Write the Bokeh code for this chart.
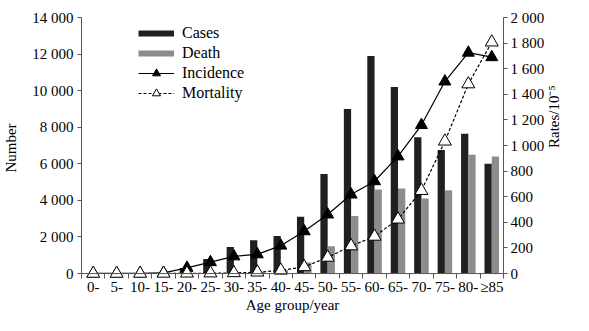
import math
import numpy as np
from bokeh.plotting import figure
from bokeh.models import (Range1d, LinearAxis, FixedTicker, Span, Legend,
                          LegendItem, ColumnDataSource)
from bokeh.transform import dodge
from bokeh.embed import file_html
from bokeh.resources import INLINE

# ---------------- data ----------------
categories = ["0-", "5-", "10-", "15-", "20-", "25-", "30-", "35-", "40-",
              "45-", "50-", "55-", "60-", "65-", "70-", "75-", "80-", "≥85"]
cases = [10, 5, 10, 50, 300, 800, 1450, 1820, 2050, 3100, 5450, 9000,
         11900, 10200, 7450, 6750, 7650, 6000]
deaths = [2, 1, 2, 5, 10, 20, 40, 100, 200, 600, 1500, 3150,
          4600, 4650, 4100, 4550, 6500, 6400]
incidence = [1, 1, 2, 5, 45, 89, 134, 150, 218, 330, 461, 617,
             721, 915, 1160, 1500, 1725, 1690]
mortality = [0.5, 0.3, 0.5, 1, 2, 3, 5, 10, 25, 52, 126, 215,
             290, 424, 647, 1033, 1480, 1807]

number_ticks = [0, 2000, 4000, 6000, 8000, 10000, 12000, 14000]
rate_ticks = [0, 200, 400, 600, 800, 1000, 1200, 1400, 1600, 1800, 2000]

# ---------------- styling ----------------
FONT = "Liberation Serif"
TICK_FS = "15px"
TITLE_FS = "15px"
AXIS_COLOR = "#555555"
PAD = 270  # small space below zero so the zero markers are not clipped

def fmt(v):
    return f"{v:,}".replace(",", " ")

xs = [i + 0.5 for i in range(len(categories))]
src = ColumnDataSource(dict(x=xs, cat=categories, cases=cases, deaths=deaths,
                            incidence=incidence, mortality=mortality))

p = figure(width=573, height=315, output_backend="svg", toolbar_location=None,
           x_range=Range1d(0, len(categories)), y_range=Range1d(-PAD, 14000),
           min_border_left=80, min_border_right=55, min_border_top=17,
           min_border_bottom=30)
p.extra_y_ranges = {"rate": Range1d(-PAD / 7.0, 2000)}
p.outline_line_color = None
p.xgrid.visible = False
p.ygrid.visible = False
p.background_fill_color = "white"
p.border_fill_color = "white"

r_cases = p.vbar(x=dodge("x", -0.155, range=p.x_range), top="cases", bottom=0,
                 width=0.31, source=src, fill_color="#231f20", line_color=None)
r_deaths = p.vbar(x=dodge("x", 0.155, range=p.x_range), top="deaths", bottom=0,
                  width=0.31, source=src, fill_color="#8c8c8c", line_color=None)

zero = Span(location=0, dimension="width", line_color=AXIS_COLOR, line_width=1)
p.add_layout(zero)

r_inc_l = p.line(x="x", y="incidence", source=src, y_range_name="rate",
                 line_color="black", line_width=1.2)
r_inc_m = p.scatter(x="x", y="incidence", source=src, y_range_name="rate",
                    marker="triangle", size=12, fill_color="black",
                    line_color="black")
r_mor_l = p.line(x="x", y="mortality", source=src, y_range_name="rate",
                 line_color="black", line_width=1.2, line_dash="3 2")
r_mor_m = p.scatter(x="x", y="mortality", source=src, y_range_name="rate",
                    marker="triangle", size=13, fill_color="white",
                    line_color="black", line_width=1)

# legend proxies (thick strokes for the bar series, nothing drawn in the plot)
nan = np.array([np.nan])
leg_cases = p.line(x=nan, y=nan, line_color="#231f20", line_width=6)
leg_deaths = p.line(x=nan, y=nan, line_color="#8c8c8c", line_width=6)

# ---------------- axes ----------------
xa = p.xaxis[0]
xa.ticker = FixedTicker(ticks=xs, minor_ticks=list(range(len(categories) + 1)))
xa.major_label_overrides = {x: c for x, c in zip(xs, categories)}
xa.major_tick_in = 0
xa.major_tick_out = 0
xa.minor_tick_in = 5
xa.minor_tick_out = 0
xa.minor_tick_line_color = AXIS_COLOR
xa.major_label_standoff = 0
xa.axis_label = "Age group/year"
xa.axis_label_standoff = -1

ya = p.yaxis[0]
ya.ticker = FixedTicker(ticks=number_ticks)
ya.major_label_overrides = {v: fmt(v) for v in number_ticks}
ya.bounds = (0, 14000)
ya.axis_label = "Number"

ra = LinearAxis(y_range_name="rate", ticker=FixedTicker(ticks=rate_ticks))
ra.major_label_overrides = {v: fmt(v) for v in rate_ticks}
ra.bounds = (0, 2000)
ra.axis_label = "Rates/10⁻⁵"
try:
    ra.axis_label_orientation = math.pi / 2
except Exception:
    pass
p.add_layout(ra, "right")

for ax in (ya, ra):
    ax.major_tick_in = 0
    ax.major_tick_out = 4
    ax.minor_tick_line_color = None
    ax.major_label_standoff = 4
    ax.axis_line_color = AXIS_COLOR
ya.axis_label_standoff = 10
ra.major_label_standoff = 3
ra.axis_label_standoff = 7

xa.axis_line_color = None
for ax in (xa, ya, ra):
    ax.major_tick_line_color = AXIS_COLOR
    ax.major_label_text_font = FONT
    ax.major_label_text_font_size = TICK_FS
    ax.major_label_text_color = "black"
    ax.axis_label_text_font = FONT
    ax.axis_label_text_font_size = TITLE_FS
    ax.axis_label_text_font_style = "normal"
    ax.axis_label_text_color = "black"

# ---------------- legend ----------------
legend = Legend(items=[
    LegendItem(label="Cases", renderers=[leg_cases]),
    LegendItem(label="Death", renderers=[leg_deaths]),
    LegendItem(label="Incidence", renderers=[r_inc_l, r_inc_m]),
    LegendItem(label="Mortality", renderers=[r_mor_l, r_mor_m]),
], location=(57, 175), orientation="vertical")
legend.margin = 0
legend.padding = 0
legend.spacing = 0
legend.glyph_width = 36
legend.glyph_height = 20
legend.label_height = 20
legend.label_standoff = 8
legend.label_text_font = FONT
legend.label_text_font_size = "16px"
legend.label_text_color = "black"
legend.border_line_color = None
legend.background_fill_alpha = 0
p.add_layout(legend)

open("out.html", "w").write(file_html(p, INLINE))
